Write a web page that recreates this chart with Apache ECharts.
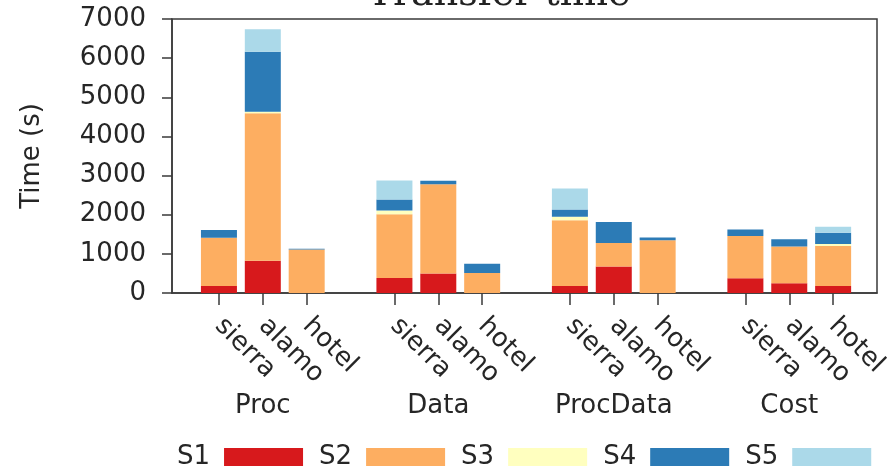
<!DOCTYPE html>
<html>
<head>
<meta charset="utf-8">
<script src="https://cdn.jsdelivr.net/npm/echarts@6/dist/echarts.min.js"></script>
<style>
  html, body { margin: 0; padding: 0; background: #fff; }
  #chart { width: 893px; height: 473px; }
</style>
</head>
<body>
<div id="chart"></div>
<script>
// Workload groups and the sites measured within each group
const groups = ['Proc', 'Data', 'ProcData', 'Cost'];
const sites = ['sierra', 'alamo', 'hotel'];
const seriesNames = ['S1', 'S2', 'S3', 'S4', 'S5'];
const yTicks = [0, 1000, 2000, 3000, 4000, 5000, 6000, 7000];

// Transfer time per stage (s), ordered group by group: sierra, alamo, hotel
const S1 = [180, 825, 0,    385, 500, 0,    180, 680, 0,    375, 250, 180];
const S2 = [1230, 3765, 1110, 1625, 2280, 510, 1680, 600, 1345, 1080, 935, 1020];
const S3 = [0, 40, 0,       100, 0, 0,      85, 0, 0,       0, 0, 50];
const S4 = [200, 1535, 20,  280, 85, 240,   190, 535, 70,   170, 190, 290];
const S5 = [0, 570, 0,      485, 0, 0,      535, 0, 0,      0, 0, 155];

const stageValues = [S1, S2, S3, S4, S5];
const colors = ['#d7191c', '#fdae61', '#ffffbf', '#2c7bb6', '#abd9e9'];

// Bar slots: three sites per group, with one empty slot between groups
const slotOf = (g, s) => g * (sites.length + 1) + s;
const barSlots = [];
const slotLabel = {};
groups.forEach((g, gi) => sites.forEach((s, si) => {
  const p = slotOf(gi, si);
  barSlots.push(p);
  slotLabel[p] = s;
}));
const groupSlots = groups.map((g, gi) => slotOf(gi, (sites.length - 1) / 2));
const groupLabel = {};
groupSlots.forEach((p, i) => { groupLabel[p] = groups[i]; });

const FONT = 'DejaVu Sans';
const FS = 26;
const TEXT = '#262626';
const AXIS = '#3a3a3a';

const chart = echarts.init(document.getElementById('chart'), null, { renderer: 'canvas' });

chart.setOption({
  backgroundColor: '#ffffff',
  animation: false,
  title: {
    text: 'Transfer time',
    left: 494,
    textAlign: 'center',
    top: -29,
    textStyle: { fontFamily: 'DejaVu Serif', fontSize: 38, fontWeight: 'normal', color: '#222' }
  },
  legend: {
    data: seriesNames,
    left: 177,
    top: 444,
    padding: 0,
    align: 'right',
    itemWidth: 79,
    itemHeight: 18,
    itemGap: 16,
    icon: 'rect',
    textStyle: { fontFamily: FONT, fontSize: FS, color: TEXT, padding: [0, 9, 0, 0] }
  },
  grid: {
    left: 172, right: 16, top: 19, bottom: 180,
    show: true, borderColor: AXIS, borderWidth: 1.5, backgroundColor: 'transparent'
  },
  xAxis: [
    {
      type: 'value',
      min: -1.07,
      max: 15,
      splitLine: { show: false },
      axisLine: { show: true, onZero: false, lineStyle: { color: AXIS, width: 1.5 } },
      axisTick: { show: true, length: 12, lineStyle: { color: AXIS, width: 1.5 }, customValues: barSlots },
      axisLabel: {
        customValues: barSlots,
        rotate: -45,
        margin: 29,
        fontFamily: FONT,
        fontSize: FS,
        color: TEXT,
        formatter: v => slotLabel[Math.round(v)] || ''
      }
    },
    {
      type: 'value',
      position: 'bottom',
      min: -1.07,
      max: 15,
      splitLine: { show: false },
      axisLine: { show: false, onZero: false },
      axisTick: { show: false },
      axisLabel: {
        customValues: groupSlots,
        margin: 100,
        fontFamily: FONT,
        fontSize: FS,
        color: TEXT,
        formatter: v => groupLabel[Math.round(v)] || ''
      }
    }
  ],
  yAxis: {
    type: 'value',
    min: 0,
    max: 7000,
    interval: 1000,
    name: 'Time (s)',
    nameLocation: 'middle',
    nameGap: 127,
    nameTextStyle: { fontFamily: FONT, fontSize: FS, color: TEXT },
    splitLine: { show: false },
    axisLine: { show: true, onZero: false, lineStyle: { color: AXIS, width: 1.5 } },
    axisTick: { show: true, length: 10, lineStyle: { color: AXIS, width: 1.5 } },
    axisLabel: {
      margin: 26,
      fontFamily: FONT,
      fontSize: FS,
      color: TEXT,
      customValues: yTicks,
      formatter: v => String(v)
    }
  },
  // Each item is [time, slot]; the time dimension comes first so the stack accumulates it
  series: seriesNames.map((name, i) => ({
    name,
    type: 'bar',
    stack: 'total',
    xAxisIndex: 0,
    barWidth: 36,
    encode: { x: 1, y: 0 },
    itemStyle: { color: colors[i] },
    data: barSlots.map((p, k) => [stageValues[i][k], p])
  }))
});
</script>
</body>
</html>
